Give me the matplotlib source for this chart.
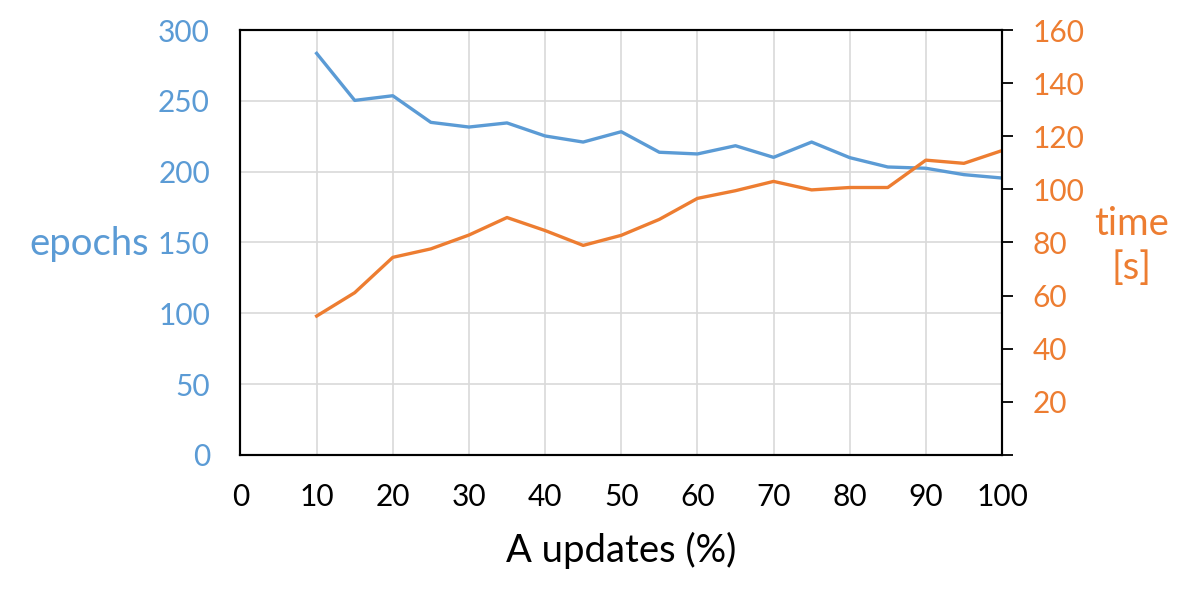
import matplotlib.pyplot as plt

updates = [10, 15, 20, 25, 30, 35, 40, 45, 50, 55, 60, 65, 70, 75, 80, 85, 90, 95, 100]
epochs = [283.5, 250.3, 253.6, 234.8, 231.5, 234.4, 225.2, 220.9, 228.2, 213.7,
          212.5, 218.3, 210.1, 220.9, 209.9, 203.3, 202.4, 197.9, 195.5]
time_s = [52.3, 61.1, 74.4, 77.6, 82.8, 89.4, 84.5, 78.9, 82.7, 88.7,
          96.6, 99.5, 103.0, 99.8, 100.7, 100.7, 111.0, 109.8, 114.6]

blue = '#5B9BD5'
orange = '#ED7D31'

plt.rcParams['font.family'] = ['Lato', 'DejaVu Sans']

fig = plt.figure(figsize=(12, 6), dpi=100)
ax = fig.add_axes([0.2004, 0.2417, 0.6346, 0.7083])
ax2 = ax.twinx()

ax.plot(updates, epochs, color=blue, linewidth=2.4)
ax2.plot(updates, time_s, color=orange, linewidth=2.4)

ax.set_xlim(0, 100)
ax.set_ylim(0, 300)
ax2.set_ylim(0, 160)

ax.set_xticks(range(0, 101, 10))
ax.set_yticks(range(0, 301, 50))
ax2.set_yticks(range(0, 161, 20))
ax2.set_yticklabels([''] + [str(v) for v in range(20, 161, 20)])

ax.grid(True, color='#d9d9d9', linewidth=1.2)
ax.set_axisbelow(True)

ax.tick_params(axis='x', length=0, pad=20, labelsize=21.5, colors='black')
ax.tick_params(axis='y', length=0, pad=22, labelsize=21.5, labelcolor=blue)
ax2.tick_params(axis='y', length=8, width=1.3, direction='out', pad=14,
                labelsize=21.5, labelcolor=orange, color='black')

for a in (ax, ax2):
    for s in a.spines.values():
        s.set_color('black')
        s.set_linewidth(1.5)

ax.set_xlabel('A updates (%)', fontsize=27.5, labelpad=15)
fig.text(0.074, 0.594, 'epochs', color=blue, fontsize=27.5, ha='center', va='center')
fig.text(0.943, 0.59, 'time\n[s]', color=orange, fontsize=27.5, ha='center',
         va='center', linespacing=1.25)

fig.savefig('out.png', dpi=100)
